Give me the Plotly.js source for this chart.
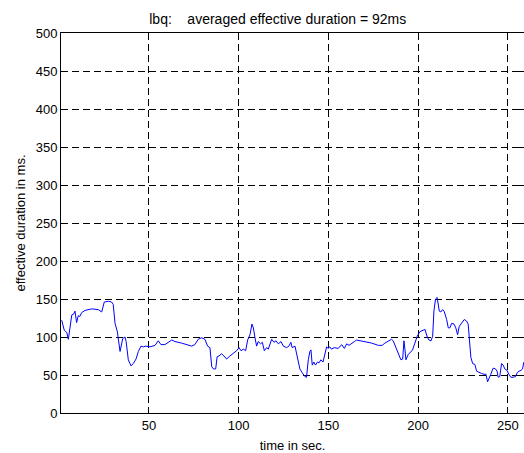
<!DOCTYPE html>
<html>
<head>
<meta charset="utf-8">
<script src="https://cdn.plot.ly/plotly-3.0.1.min.js"></script>
<style>html,body{margin:0;padding:0;background:#fff;}#chart{width:524px;height:453px;}</style>
</head>
<body>
<div id="chart"></div>
<script>
const timeSec = [
  1.4, 2.8, 4.2, 5.1, 7.0, 8.0, 8.8, 9.7, 10.6, 11.5, 12.5, 14.4, 18.1, 21.8, 23.7, 25.1, 27.4, 29.2, 30.1,
  31.1, 32.4, 33.9, 35.4, 36.7, 37.3, 38.5, 40.0, 41.3, 42.8, 44.1, 45.6, 46.9, 48.2, 50.6, 53.4, 55.2,
  56.7, 58.9, 62.7,
  64.5, 68.2, 71.9, 73.8, 75.6, 77.5, 79.4, 81.2, 82.7, 84.0, 85.0, 85.9, 87.2, 88.0, 89.0, 90.5, 91.8,
  93.3, 95.1, 97.0, 98.9, 100.2, 101.3, 102.6, 103.9, 105.0, 106.3, 107.4, 108.2, 109.1, 110.0, 110.9,
  112.2, 113.2, 114.3, 115.6, 116.5, 118.4, 119.7, 120.8, 122.1, 123.6, 124.9, 126.7, 128.0, 129.1, 129.8,
  131.4, 132.8, 134.1, 135.4, 136.9, 137.8, 138.8, 139.7, 140.3, 141.0, 141.9, 142.8, 143.9, 144.8, 145.8,
  147.0, 148.1, 149.0, 149.9, 150.8, 151.7, 153.2, 155.5, 157.4, 158.9, 160.2, 161.5, 163.0, 164.5, 165.7,
  167.6, 170.4, 174.1, 177.8, 180.0, 181.5, 183.3, 185.2, 186.1, 187.1, 188.0, 189.3, 190.4, 191.4, 192.1,
  192.7, 193.2, 194.5,
  195.4, 196.9, 198.2, 199.5, 201.0, 202.5, 203.8, 205.1, 206.0, 207.2, 208.1, 208.8, 209.7, 210.6, 211.8,
  212.7, 213.6, 214.5, 215.9, 216.8, 217.7, 218.7, 220.0, 221.0, 222.0, 222.9, 224.2, 225.7, 227.0, 227.9,
  228.5, 229.4, 230.4, 231.6, 232.6, 234.0, 235.4, 236.7, 237.8, 238.7, 239.6, 240.5, 241.8, 243.1, 244.0,
  244.6, 245.5, 246.5, 247.4, 248.3, 249.6, 250.5, 251.7, 252.9, 254.3, 255.2, 256.2, 257.3, 258.2, 258.9
];
const durationMs = [
  122, 109, 106, 97, 129, 130, 134, 119, 128, 127, 132, 135, 137, 136, 133, 146, 147, 146, 143,
  118, 107, 81, 98, 100, 94, 70, 62, 65, 71, 81, 88, 87, 88, 87, 89, 95,
  90, 90, 96,
  94, 92, 90, 88, 90, 97, 99, 97, 88, 86, 61, 58, 58, 74, 75, 78, 75,
  71, 75, 78, 82, 86, 82, 84, 82, 96, 103, 117, 112, 99, 88, 94,
  91, 93, 82, 86, 84, 97, 93, 95, 91, 94, 88, 86, 88, 93, 86,
  88, 72, 58, 53, 48, 47, 70, 81, 83, 63, 67, 63, 67, 66, 70,
  67, 77, 87, 85, 87, 84, 86, 85, 90, 85, 91, 89, 91, 94, 96,
  95, 94, 92, 89, 89, 92, 95, 97, 95, 89, 86, 77, 70, 71, 95,
  83, 70, 77,
  79, 83, 92, 101, 107, 109, 110, 100, 96, 95, 101, 134, 150, 152, 134,
  133, 136, 134, 123, 112, 112, 118, 117, 112, 103, 114, 118, 123, 121, 117,
  99, 73, 65, 64, 55, 53, 52, 51, 51, 41, 45, 51, 59, 58, 55,
  47, 48, 65, 63, 58, 56, 51, 47, 47, 48, 53, 55, 56, 58, 67
];
const yTicks = [0, 50, 100, 150, 200, 250, 300, 350, 400, 450, 500];
const xTicks = [50, 100, 150, 200, 250];
const chartTitle = 'lbq:    averaged effective duration = 92ms';
const xLabel = 'time in sec.';
const yLabel = 'effective duration in ms.';

const font = {family: 'Liberation Sans, Arial, sans-serif', size: 13, color: '#000'};
const titleFont = {family: 'Liberation Sans, Arial, sans-serif', size: 14, color: '#000'};
const axisCommon = {
  showline: true, linecolor: '#000', linewidth: 1, mirror: 'ticks',
  ticks: 'inside', ticklen: 5, tickcolor: '#000', tickwidth: 1,
  showgrid: true, gridcolor: '#000', gridwidth: 1, griddash: '7px,4px',
  zeroline: false, tickfont: font
};
Plotly.newPlot('chart', [{
  x: timeSec, y: durationMs, type: 'scatter', mode: 'lines',
  line: {color: '#0000ff', width: 1}, hoverinfo: 'skip'
}], {
  width: 524, height: 453,
  margin: {l: 61, r: 0, t: 33, b: 40},
  paper_bgcolor: '#fff', plot_bgcolor: '#fff',
  showlegend: false, font: font,
  title: {text: chartTitle, font: titleFont, x: 0.53, xanchor: 'center', y: 0.968, yanchor: 'top'},
  xaxis: Object.assign({}, axisCommon, {
    range: [1, 259], tickvals: xTicks, ticktext: xTicks.map(String),
    title: {text: xLabel, font: font, standoff: 10}
  }),
  yaxis: Object.assign({}, axisCommon, {
    range: [0, 500], tickvals: yTicks, ticktext: yTicks.map(String),
    title: {text: yLabel, font: font, standoff: 7}
  })
}, {staticPlot: true, displayModeBar: false});
</script>
</body>
</html>
